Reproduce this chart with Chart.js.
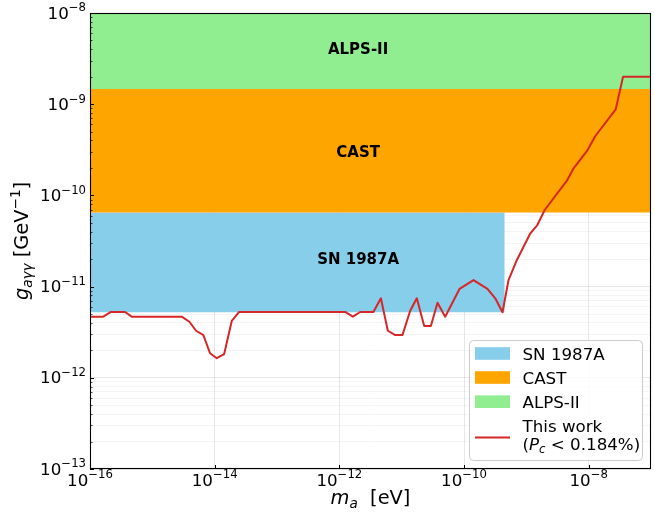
<!DOCTYPE html>
<html><head><meta charset="utf-8">
<script src="https://cdn.jsdelivr.net/npm/chart.js@4.4.0/dist/chart.umd.min.js"></script>
<style>html,body{margin:0;padding:0;background:#fff}</style>
</head><body>
<canvas id="c" width="654" height="512" style="display:block;width:654px;height:512px"></canvas>
<script>
// ---- data ----
const limitMass = [1.00e-16, 1.63e-16, 2.17e-16, 3.65e-16, 4.67e-16, 2.96e-15, 3.93e-15, 5.03e-15, 6.59e-15, 8.43e-15,
  1.08e-14, 1.42e-14, 1.88e-14, 2.47e-14, 1.24e-12, 1.65e-12, 2.16e-12, 3.52e-12, 4.64e-12, 6.00e-12,
  7.87e-12, 1.03e-11, 1.37e-11, 1.75e-11, 2.30e-11, 2.94e-11, 3.76e-11, 4.99e-11, 8.47e-11, 1.42e-10,
  2.38e-10, 3.17e-10, 4.15e-10, 5.18e-10, 7.06e-10, 1.16e-9, 1.50e-9, 1.97e-9, 4.45e-9, 5.73e-9,
  9.40e-9, 1.28e-8, 2.72e-8, 3.56e-8, 1.00e-7];
const limitCoupling = [4.68e-12, 4.68e-12, 5.27e-12, 5.27e-12, 4.68e-12, 4.68e-12, 4.12e-12, 3.28e-12, 2.94e-12, 1.86e-12,
  1.64e-12, 1.82e-12, 4.20e-12, 5.27e-12, 5.27e-12, 4.68e-12, 5.27e-12, 5.27e-12, 7.44e-12, 3.28e-12,
  2.94e-12, 2.94e-12, 5.44e-12, 7.44e-12, 3.70e-12, 3.70e-12, 6.65e-12, 4.68e-12, 9.42e-12, 1.18e-11,
  9.42e-12, 7.44e-12, 5.23e-12, 1.18e-11, 1.96e-11, 3.84e-11, 4.73e-11, 6.92e-11, 1.44e-10, 1.98e-10,
  3.07e-10, 4.48e-10, 8.79e-10, 2.00e-9, 2.00e-9];
const sn1987aMass = [1e-16, 4.5e-10];
const sn1987aCoupling = [5.23e-12, 6.5e-11];   // [lower, upper]
const castMass = [1e-16, 1e-7];
const castCoupling = [6.5e-11, 1.47e-9];
const alpsMass = [1e-16, 1e-7];
const alpsCoupling = [1.47e-9, 1e-8];
const regionNames = ['SN 1987A', 'CAST', 'ALPS-II'];
const regionLabelMass = [2.0e-12, 2.0e-12, 2.0e-12];
const regionLabelCoupling = [2.02e-11, 3.05e-10, 4.08e-9];
const xTickExponents = [-16, -14, -12, -10, -8];
const yTickExponents = [-13, -12, -11, -10, -9, -8];
const xRange = [1e-16, 1e-7];
const yRange = [1e-13, 1e-8];

// ---- helpers ----
const FAM = "'DejaVu Sans', sans-serif";
const TICK_SIZE = 16.7;
function isDecade(v){ const l = Math.log10(v); return Math.abs(l - Math.round(l)) < 1e-6; }
function expOf(v){ return Math.round(Math.log10(v)); }
function tickParts(e){ return [{t: '10'}, {t: String(e).replace('-', '\u2212'), s: 0.7, dy: -0.42}]; }

const yTickValues = [];
for (let e = yTickExponents[0]; e < yTickExponents[yTickExponents.length - 1]; e++) {
  for (let m = 1; m < 10; m++) yTickValues.push(Number(m + 'e' + e));
}
yTickValues.push(Number('1e' + yTickExponents[yTickExponents.length - 1]));
const xTickValues = xTickExponents.map(e => Number('1e' + e));

function pts(xs, ys){ return xs.map((x, i) => ({x: x, y: ys[i]})); }
function band(xs, lohi){ return xs.map(x => ({x: x, y: lohi[1]})); }

function setFont(ctx, size, italic, bold){
  ctx.font = (italic ? 'italic ' : '') + (bold ? 'bold ' : '') + size + 'px ' + FAM;
}
function drawRich(ctx, parts, x, y, size, align){
  let w = 0; const ws = [];
  for (const p of parts) { setFont(ctx, size * (p.s || 1), p.i, p.b); const m = ctx.measureText(p.t).width; ws.push(m); w += m; }
  let cx = align === 'center' ? x - w / 2 : (align === 'right' ? x - w : x);
  ctx.textAlign = 'left'; ctx.textBaseline = 'alphabetic';
  parts.forEach((p, i) => { setFont(ctx, size * (p.s || 1), p.i, p.b); ctx.fillText(p.t, cx, y + (p.dy || 0) * size); cx += ws[i]; });
}

const decorPlugin = {
  id: 'decor',
  afterDraw(chart){
    const ctx = chart.ctx, a = chart.chartArea;
    const xs = chart.scales.x, ys = chart.scales.y;
    ctx.save();
    // region labels
    ctx.fillStyle = '#000';
    setFont(ctx, 15, false, true);
    ctx.textAlign = 'center'; ctx.textBaseline = 'alphabetic';
    regionNames.forEach((n, i) => {
      const px = xs.getPixelForValue(regionLabelMass[i]);
      const py = ys.getPixelForValue(regionLabelCoupling[i]);
      ctx.fillText(n, px, py + 5.5);
    });
    // inward ticks
    ctx.strokeStyle = '#000';
    ys.ticks.forEach(t => {
      const py = Math.round(ys.getPixelForValue(t.value)) + 0.5;
      const major = isDecade(t.value);
      ctx.lineWidth = major ? 1 : 0.7;
      ctx.beginPath(); ctx.moveTo(a.left, py); ctx.lineTo(a.left + (major ? 4 : 2.5), py); ctx.stroke();
    });
    xs.ticks.forEach(t => {
      const px = Math.round(xs.getPixelForValue(t.value)) + 0.5;
      ctx.lineWidth = 1;
      ctx.beginPath(); ctx.moveTo(px, a.bottom); ctx.lineTo(px, a.bottom - 4); ctx.stroke();
    });
    // tick labels (10^n with raised exponent)
    ctx.fillStyle = '#000';
    ys.ticks.forEach(t => {
      if (!isDecade(t.value)) return;
      drawRich(ctx, tickParts(expOf(t.value)), a.left - 4, ys.getPixelForValue(t.value) + 5.5, TICK_SIZE, 'right');
    });
    xs.ticks.forEach(t => {
      drawRich(ctx, tickParts(expOf(t.value)), xs.getPixelForValue(t.value), a.bottom + 16.5, TICK_SIZE, 'center');
    });
    // frame
    ctx.lineWidth = 1.1; ctx.strokeStyle = '#000';
    ctx.strokeRect(Math.round(a.left) + 0.5, Math.round(a.top) + 0.5, Math.round(a.right - a.left) - 1, Math.round(a.bottom - a.top) - 1);
    // axis titles
    ctx.fillStyle = '#000';
    drawRich(ctx, [{t:'m', i:1}, {t:'a', i:1, s:0.7, dy:0.2}, {t:'  [eV]'}], (a.left + a.right) / 2, 504, 19.4, 'center');
    ctx.save();
    ctx.translate(28, (a.top + a.bottom) / 2);
    ctx.rotate(-Math.PI / 2);
    drawRich(ctx, [{t:'g', i:1}, {t:'a\u03B3\u03B3', i:1, s:0.7, dy:0.2}, {t:' [GeV'}, {t:'\u22121', s:0.7, dy:-0.42}, {t:']'}], 0, 0, 19.4, 'center');
    ctx.restore();
    // legend
    const lx = 469.5, ly = 340.5, lw = 173, lh = 120;
    ctx.beginPath();
    ctx.roundRect(lx, ly, lw, lh, 4);
    ctx.fillStyle = 'rgba(255,255,255,0.8)'; ctx.fill();
    ctx.strokeStyle = '#cccccc'; ctx.lineWidth = 1; ctx.stroke();
    const ds = chart.data.datasets;
    const rows = [{d: ds[3], y: 353.5}, {d: ds[2], y: 377.5}, {d: ds[1], y: 401.7}];
    rows.forEach(r => {
      ctx.fillStyle = r.d.backgroundColor;
      ctx.fillRect(475, r.y - 6.3, 35, 12.6);
      ctx.fillStyle = '#000';
      drawRich(ctx, [{t: r.d.label}], 522.5, r.y + 6, 16.7, 'left');
    });
    ctx.strokeStyle = ds[0].borderColor; ctx.lineWidth = 2;
    ctx.beginPath(); ctx.moveTo(475, 437.5); ctx.lineTo(510, 437.5); ctx.stroke();
    ctx.fillStyle = '#000';
    drawRich(ctx, [{t: 'This work'}], 522.5, 431.7, 16.7, 'left');
    drawRich(ctx, [{t:'('}, {t:'P', i:1}, {t:'c', i:1, s:0.7, dy:0.2}, {t:' < '}, {t:'0.184%)'}], 522.5, 450, 16.7, 'left');
    ctx.restore();
  }
};

new Chart(document.getElementById('c'), {
  type: 'line',
  data: {
    datasets: [
      {label: 'This work', data: pts(limitMass, limitCoupling), borderColor: '#d62728', borderWidth: 2,
       pointRadius: 0, fill: false, tension: 0, borderJoinStyle: 'round', order: 0},
      {label: 'ALPS-II', data: band(alpsMass, alpsCoupling), fill: {value: alpsCoupling[0]},
       backgroundColor: '#90EE90', borderWidth: 0, borderColor: 'rgba(0,0,0,0)', pointRadius: 0, order: 1},
      {label: 'CAST', data: band(castMass, castCoupling), fill: {value: castCoupling[0]},
       backgroundColor: '#FFA500', borderWidth: 0, borderColor: 'rgba(0,0,0,0)', pointRadius: 0, order: 2},
      {label: 'SN 1987A', data: band(sn1987aMass, sn1987aCoupling), fill: {value: sn1987aCoupling[0]},
       backgroundColor: '#87CEEB', borderWidth: 0, borderColor: 'rgba(0,0,0,0)', pointRadius: 0, order: 3}
    ]
  },
  options: {
    responsive: false, animation: false, events: [],
    devicePixelRatio: 1,
    layout: {padding: {left: 0, right: 3, top: 13, bottom: 0}},
    plugins: {legend: {display: false}, tooltip: {enabled: false}},
    scales: {
      x: {
        type: 'logarithmic', min: xRange[0], max: xRange[1], z: 1,
        afterBuildTicks: s => { s.ticks = xTickValues.map(v => ({value: v})); },
        afterFit: s => { s.height = 43; },
        ticks: {display: false, autoSkip: false},
        grid: {drawTicks: false, color: 'rgba(0,0,0,0.12)', lineWidth: 0.8},
        border: {display: false}
      },
      y: {
        type: 'logarithmic', min: yRange[0], max: yRange[1], z: 1,
        afterBuildTicks: s => { s.ticks = yTickValues.map(v => ({value: v})); },
        afterFit: s => { s.width = 90; },
        ticks: {display: false, autoSkip: false},
        grid: {drawTicks: false, lineWidth: 0.8,
               color: c => (c.tick && isDecade(c.tick.value)) ? 'rgba(0,0,0,0.12)' : 'rgba(0,0,0,0.06)'},
        border: {display: false}
      }
    }
  },
  plugins: [decorPlugin]
});
</script>
</body></html>
